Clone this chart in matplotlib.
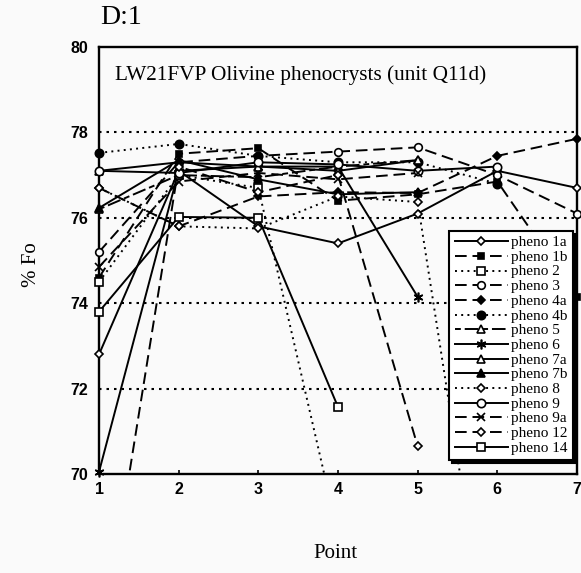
import numpy as np
import matplotlib
matplotlib.use("Agg")
import matplotlib.pyplot as plt
from matplotlib.lines import Line2D

points = [1, 2, 3, 4, 5, 6, 7]

pheno_1a = [72.8, 77.1, 75.8, 75.4, 76.1, 77.1, 76.7]
pheno_1b = [74.6, 77.5, 77.63, 76.4, 76.55, 76.85, 74.15]
pheno_2 = [74.5, 77.0, 76.7, 68.6]
pheno_3 = [75.2, 77.3, 77.45, 77.55, 77.65, 77.0, 76.1]
pheno_4a = [76.7, 75.8, 76.5, 76.6, 76.58, 77.45, 77.85]
pheno_4b = [77.52, 77.73, 77.45, 77.3, 77.3, 76.8]
pheno_5 = [76.2, 77.0, 76.95, 77.2, 77.35]
pheno_6 = [70.05, 77.1, 77.2, 77.2, 74.15]
pheno_7a = [77.1, 77.3, 77.2, 77.1, 77.35]
pheno_7b = [76.23, 77.35, 76.9, 76.55, 76.6]
pheno_8 = [76.7, 75.8, 75.75, 76.5, 76.37, 64.4]
pheno_9 = [77.1, 77.05, 77.3, 77.25, 77.1, 77.2]
pheno_9a = [74.85, 76.85, 77.05, 76.9, 77.05]
pheno_12 = [65.6, 77.2, 76.6, 77.0, 70.65]
pheno_14 = [73.8, 76.02, 76.0, 71.57]

labels = ["pheno 1a", "pheno 1b", "pheno 2", "pheno 3", "pheno 4a", "pheno 4b",
          "pheno 5", "pheno 6", "pheno 7a", "pheno 7b", "pheno 8", "pheno 9",
          "pheno 9a", "pheno 12", "pheno 14"]
series = [pheno_1a, pheno_1b, pheno_2, pheno_3, pheno_4a, pheno_4b, pheno_5,
          pheno_6, pheno_7a, pheno_7b, pheno_8, pheno_9, pheno_9a, pheno_12, pheno_14]

DASH = (0, (6, 3))
DOT = (0, (1, 2.2))
DASHDOT = (0, (3, 2, 7, 2))
styles = [
    ("-", "D", "white", 4.5),
    (DASH, "s", "black", 4.5),
    (DOT, "s", "white", 5.5),
    (DASH, "o", "white", 5.5),
    (DASH, "D", "black", 4.5),
    (DOT, "o", "black", 6),
    (DASHDOT, "^", "white", 5.5),
    ("-", (6, 2, 0), "black", 7),
    ("-", "^", "white", 5.5),
    ("-", "^", "black", 5.5),
    (DOT, "D", "white", 4.5),
    ("-", "o", "white", 6),
    (DASH, "x", "black", 5.5),
    (DASH, "D", "white", 4),
    ("-", "s", "white", 5.5),
]

W, H = 581, 573
fig = plt.figure(figsize=(W / 100, H / 100), dpi=100)
fig.patch.set_facecolor("#fafafa")
ax = fig.add_axes([99 / W, 1 - 474 / H, (577 - 99) / W, (474 - 47) / H])
ax.set_facecolor("#fafafa")
ax.set_xlim(1, 7)
ax.set_ylim(70, 80)

for yv in [72, 74, 76, 78]:
    ax.axhline(yv, color="black", lw=1.5, ls=(0, (1.2, 2.4)), zorder=1)

handles = []
for vals, lab, (ls, mk, fc, ms) in zip(series, labels, styles):
    xs = points[:len(vals)]
    ax.plot(xs, vals, color="black", lw=1.4, ls=ls, zorder=2)
    inx = [x for x, v in zip(xs, vals) if 70 <= v <= 80]
    inv = [v for v in vals if 70 <= v <= 80]
    ax.plot(inx, inv, ls="none", marker=mk, ms=ms, mfc=fc, mec="black", mew=1.2,
            clip_on=False, zorder=3)
    handles.append(Line2D([], [], color="black", lw=1.4, ls=ls, marker=mk, ms=ms,
                          mfc=fc, mec="black", mew=1.2))

for s in ax.spines.values():
    s.set_linewidth(1.7)

ax.set_yticks([70, 72, 74, 76, 78, 80])
ax.set_xticks(points)
ax.tick_params(axis="both", direction="in", length=3, width=1.2, pad=6)
ax.tick_params(axis="y", length=0, pad=8)
for t in ax.get_xticklabels() + ax.get_yticklabels():
    t.set_fontfamily("Liberation Sans")
    t.set_fontweight("bold")
    t.set_fontsize(11.5)

fig.text(100 / W, 1 - 18 / H, "D:1", fontsize=20, family="Liberation Serif",
         ha="left", va="center")
fig.text(115 / W, 1 - 75 / H, "LW21FVP Olivine phenocrysts (unit Q11d)",
         fontsize=15.3, family="Liberation Serif", ha="left", va="center")
fig.text(32 / W, 1 - 265 / H, "% Fo", fontsize=15, family="Liberation Serif",
         rotation=90, ha="center", va="center")
fig.text(335 / W, 1 - 553 / H, "Point", fontsize=15, family="Liberation Serif",
         ha="center", va="center")

leg = ax.legend(handles, labels, loc="lower right",
                bbox_to_anchor=((573 - 99) / 478, (474 - 460) / 427),
                borderaxespad=0, prop={"family": "Liberation Serif", "size": 11},
                handlelength=3.5, handleheight=0.5, handletextpad=0.2,
                labelspacing=0.11, borderpad=0.35, fancybox=False,
                shadow={"color": "black", "alpha": 1},
                framealpha=1, edgecolor="black", facecolor="white")
leg.get_frame().set_linewidth(1.5)

fig.savefig("out.png", dpi=100, facecolor=fig.get_facecolor())
